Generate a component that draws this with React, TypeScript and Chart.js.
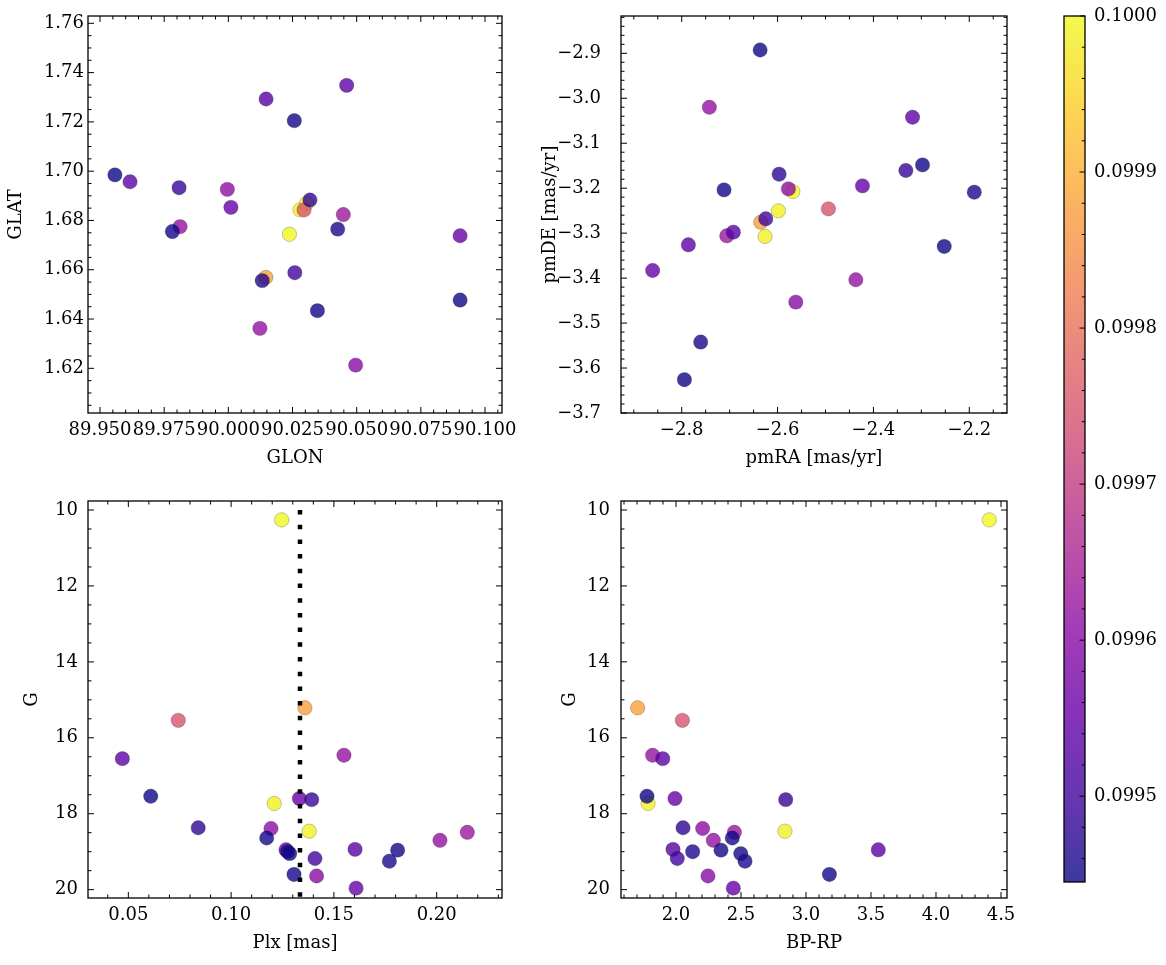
import React, { useEffect, useRef } from "react";
import { Chart, registerables } from "chart.js";
Chart.register(...registerables);

// ---- star data (ordered by membership probability, descending) ----
const glon = [90.0238, 90.0279, 90.0305, 90.0146, 90.0295, 89.9812, 89.9996, 90.0448, 90.0123, 90.0496, 89.9617, 90.001, 90.0147, 90.0461, 90.0903, 89.9808, 90.0318, 90.0259, 89.9558, 89.9782, 90.0257, 90.0426, 90.0903, 90.0132, 90.0347];
const glat = [1.6744, 1.6843, 1.687, 1.6569, 1.6843, 1.6775, 1.6926, 1.6824, 1.6362, 1.6213, 1.6957, 1.6853, 1.7293, 1.7348, 1.6738, 1.6933, 1.6883, 1.6588, 1.6985, 1.6755, 1.7205, 1.6765, 1.6477, 1.6556, 1.6434];
const pmra = [-2.5682, -2.5982, -2.6261, -2.635, -2.4939, -2.7423, -2.5774, -2.706, -2.4367, -2.562, -2.3184, -2.4229, -2.6922, -2.7861, -2.8606, -2.3323, -2.5968, -2.6246, -2.6364, -2.2976, -2.7117, -2.1896, -2.2523, -2.7604, -2.7944];
const pmde = [-3.2074, -3.2504, -3.3074, -3.2756, -3.2459, -3.02, -3.2015, -3.3059, -3.4037, -3.4533, -3.0422, -3.1948, -3.2978, -3.3259, -3.383, -3.1607, -3.1689, -3.2681, -2.8926, -3.1482, -3.2037, -3.2089, -3.3296, -3.5422, -3.6259];
const plx = [0.1246, 0.121, 0.138, 0.1359, 0.0743, 0.1549, 0.1194, 0.2149, 0.2016, 0.1416, 0.0471, 0.1332, 0.1603, 0.1267, 0.1608, 0.1392, 0.084, 0.1408, 0.0609, 0.1173, 0.181, 0.1275, 0.1285, 0.177, 0.1306];
const gmag = [10.26, 17.73, 18.46, 15.21, 15.54, 16.46, 18.39, 18.49, 18.7, 19.64, 16.55, 17.6, 18.94, 18.95, 19.96, 17.63, 18.37, 19.18, 17.54, 18.64, 18.96, 19.0, 19.05, 19.25, 19.6];
const bprp = [4.41, 1.785, 2.838, 1.705, 2.049, 1.82, 2.205, 2.449, 2.287, 2.246, 1.898, 1.992, 1.977, 3.556, 2.441, 2.844, 2.054, 2.01, 1.777, 2.433, 2.346, 2.128, 2.498, 2.531, 3.18];
const prob = [0.1, 0.09999, 0.09999, 0.09988, 0.09975, 0.09962, 0.09961, 0.09963, 0.09962, 0.0996, 0.09954, 0.09955, 0.09953, 0.09954, 0.09955, 0.09949, 0.09948, 0.0995, 0.099445, 0.09945, 0.09945, 0.09946, 0.09945, 0.09946, 0.09945];

const plxCut = 0.1335;
const plxCutG = [10, 20.3];

// ---- tick labels ----
const glonTicks = [89.95, 89.975, 90.0, 90.025, 90.05, 90.075, 90.1];
const glatTicks = [1.62, 1.64, 1.66, 1.68, 1.7, 1.72, 1.74, 1.76];
const pmraTicks = [-2.8, -2.6, -2.4, -2.2];
const pmdeTicks = [-3.7, -3.6, -3.5, -3.4, -3.3, -3.2, -3.1, -3.0, -2.9];
const plxTicks = [0.05, 0.1, 0.15, 0.2];
const gTicks = [10, 12, 14, 16, 18, 20];
const bprpTicks = [2.0, 2.5, 3.0, 3.5, 4.0, 4.5];
const probTicks = [0.0995, 0.0996, 0.0997, 0.0998, 0.0999, 0.1];

const FONT = "'DejaVu Serif', serif";
Chart.defaults.font.family = FONT;
Chart.defaults.color = "#000";

const PLASMA = ["#0d0887", "#41049d", "#6a00a8", "#8f0da4", "#b12a90", "#cc4778", "#e16462", "#f2844b", "#fca636", "#fcce25", "#f0f921"];
function hexRgb(h: string) {
  return [parseInt(h.slice(1, 3), 16), parseInt(h.slice(3, 5), 16), parseInt(h.slice(5, 7), 16)];
}
function plasma(t: number, alpha: number) {
  const tt = Math.min(1, Math.max(0, t));
  const n = PLASMA.length - 1;
  const f = tt * n;
  const i = Math.min(n - 1, Math.floor(f));
  const u = f - i;
  const a = hexRgb(PLASMA[i]);
  const b = hexRgb(PLASMA[i + 1]);
  const c = a.map((v, k) => Math.round(v + (b[k] - v) * u));
  return `rgba(${c[0]},${c[1]},${c[2]},${alpha})`;
}

const vmin = Math.min(...prob);
const vmax = Math.max(...prob);
const ALPHA = 0.8;
const pointColors = prob.map((p) => plasma((p - vmin) / (vmax - vmin), ALPHA));

function fmt(d: number) {
  return (v: any) => Number(v).toFixed(d).replace("-", "\u2212");
}

function minorValues(min: number, max: number, step: number, majors: number[]) {
  const out: number[] = [];
  const k0 = Math.ceil(min / step - 1e-6);
  const k1 = Math.floor(max / step + 1e-6);
  for (let k = k0; k <= k1; k++) {
    const v = k * step;
    if (majors.some((m) => Math.abs(m - v) < step * 1e-3)) continue;
    out.push(v);
  }
  return out;
}

const frameTicks = {
  id: "frameTicks",
  afterDatasetsDraw(chart: any, _args: any, opts: any) {
    const { ctx, chartArea: a } = chart;
    const xs = chart.scales.x;
    const ys = chart.scales.y;
    const majLen = opts.majorLen || 6;
    const minLen = opts.minorLen || 3.5;
    ctx.save();
    ctx.strokeStyle = "#000";
    ctx.lineWidth = 1;
    ctx.beginPath();
    const tickX = (v: number, len: number) => {
      const p = xs.getPixelForValue(v);
      if (p < a.left - 0.5 || p > a.right + 0.5) return;
      if (opts.xBottom) { ctx.moveTo(p, a.bottom); ctx.lineTo(p, a.bottom - len); }
      if (opts.xTop) { ctx.moveTo(p, a.top); ctx.lineTo(p, a.top + len); }
    };
    const tickY = (v: number, len: number) => {
      const p = ys.getPixelForValue(v);
      if (p < a.top - 0.5 || p > a.bottom + 0.5) return;
      if (opts.yLeft) { ctx.moveTo(a.left, p); ctx.lineTo(a.left + len, p); }
      if (opts.yRight) { ctx.moveTo(a.right, p); ctx.lineTo(a.right - len, p); }
    };
    if (opts.xBottom || opts.xTop) {
      const maj = xs.ticks.map((t: any) => t.value);
      maj.forEach((v: number) => tickX(v, majLen));
      minorValues(xs.min, xs.max, opts.xMinor, maj).forEach((v) => tickX(v, minLen));
    }
    if (opts.yLeft || opts.yRight) {
      const maj = ys.ticks.map((t: any) => t.value);
      maj.forEach((v: number) => tickY(v, majLen));
      minorValues(ys.min, ys.max, opts.yMinor, maj).forEach((v) => tickY(v, minLen));
    }
    ctx.stroke();
    ctx.lineWidth = 1.3;
    ctx.strokeRect(a.left, a.top, a.right - a.left, a.bottom - a.top);
    ctx.restore();
  },
};

const colorbarFill = {
  id: "colorbarFill",
  beforeDatasetsDraw(chart: any) {
    const { ctx, chartArea: a } = chart;
    const y = chart.scales.y;
    const y0 = y.getPixelForValue(vmin);
    const y1 = y.getPixelForValue(vmax);
    const g = ctx.createLinearGradient(0, y0, 0, y1);
    for (let i = 0; i <= 50; i++) g.addColorStop(i / 50, plasma(i / 50, ALPHA));
    ctx.save();
    ctx.fillStyle = g;
    ctx.fillRect(a.left, a.top, a.right - a.left, a.bottom - a.top);
    ctx.restore();
  },
};

type Spec = {
  xs: number[]; ys: number[];
  xMin: number; xMax: number; yMin: number; yMax: number;
  xTicks: number[]; yTicks: number[]; xMinor: number; yMinor: number;
  xDigits: number; yDigits: number; xTitle: string; yTitle: string;
  reverseY?: boolean;
  yWidth: number; xHeight: number;
  pad: { left: number; top: number; right: number; bottom: number };
  yTickPad: number; yTitlePad: number; xTitlePad: number;
  extra?: any[];
};

function panelConfig(s: Spec): any {
  const tickFont = { family: FONT, size: 18 };
  const titleFont = { family: FONT, size: 18, lineHeight: 1.2 };
  return {
    type: "scatter",
    data: {
      datasets: [
        ...(s.extra || []),
        {
          data: s.xs.map((x, i) => ({ x, y: s.ys[i] })),
          pointBackgroundColor: pointColors,
          pointBorderColor: "rgba(30,30,30,0.35)",
          pointBorderWidth: 0.7,
          pointRadius: 7.2,
          pointHoverRadius: 7.2,
          showLine: false,
          order: 1,
        },
      ],
    },
    options: {
      animation: false,
      responsive: false,
      events: [],
      layout: { padding: s.pad, autoPadding: false },
      plugins: {
        legend: { display: false },
        tooltip: { enabled: false },
        frameTicks: { xBottom: true, xTop: true, yLeft: true, yRight: true, xMinor: s.xMinor, yMinor: s.yMinor, majorLen: 6, minorLen: 3.5 },
      },
      scales: {
        x: {
          type: "linear",
          min: s.xMin,
          max: s.xMax,
          grid: { display: false, drawTicks: false },
          border: { display: false },
          afterBuildTicks: (sc: any) => { sc.ticks = s.xTicks.map((v) => ({ value: v })); },
          afterFit: (sc: any) => { sc.height = s.xHeight; sc.paddingLeft = 0; sc.paddingRight = 0; },
          ticks: { autoSkip: false, maxRotation: 0, minRotation: 0, padding: 6.5, font: tickFont, color: "#000", callback: fmt(s.xDigits) },
          title: { display: true, text: s.xTitle, font: titleFont, color: "#000", padding: { top: 0, bottom: s.xTitlePad } },
        },
        y: {
          type: "linear",
          min: s.yMin,
          max: s.yMax,
          reverse: !!s.reverseY,
          grid: { display: false, drawTicks: false },
          border: { display: false },
          afterBuildTicks: (sc: any) => { sc.ticks = s.yTicks.map((v) => ({ value: v })); },
          afterFit: (sc: any) => { sc.width = s.yWidth; sc.paddingTop = 0; sc.paddingBottom = 0; },
          ticks: { autoSkip: false, padding: s.yTickPad, font: tickFont, color: "#000", callback: fmt(s.yDigits) },
          title: { display: true, text: s.yTitle, font: titleFont, color: "#000", padding: { top: s.yTitlePad, bottom: 0 } },
        },
      },
    },
    plugins: [frameTicks],
  };
}

function colorbarConfig(): any {
  return {
    type: "scatter",
    data: { datasets: [] },
    options: {
      animation: false,
      responsive: false,
      events: [],
      layout: { padding: { left: 24, top: 16, right: 0, bottom: 83 }, autoPadding: false },
      plugins: {
        legend: { display: false },
        tooltip: { enabled: false },
        frameTicks: { xBottom: false, xTop: false, yLeft: false, yRight: true, yMinor: 0.00002, majorLen: 5.5, minorLen: 3.2 },
      },
      scales: {
        x: { type: "linear", display: false, min: 0, max: 1 },
        y: {
          type: "linear",
          position: "right",
          min: vmin,
          max: vmax,
          grid: { display: false, drawTicks: false },
          border: { display: false },
          afterBuildTicks: (sc: any) => { sc.ticks = probTicks.map((v) => ({ value: v })); },
          afterFit: (sc: any) => { sc.width = 81; sc.paddingTop = 0; sc.paddingBottom = 0; },
          ticks: { autoSkip: false, padding: 9, font: { family: FONT, size: 18 }, color: "#000", callback: fmt(4) },
        },
      },
    },
    plugins: [colorbarFill, frameTicks],
  };
}

export default function App() {
  const r1 = useRef<HTMLCanvasElement>(null);
  const r2 = useRef<HTMLCanvasElement>(null);
  const r3 = useRef<HTMLCanvasElement>(null);
  const r4 = useRef<HTMLCanvasElement>(null);
  const r5 = useRef<HTMLCanvasElement>(null);

  useEffect(() => {
    const charts: Chart[] = [];
    charts.push(new Chart(r1.current as HTMLCanvasElement, panelConfig({
      xs: glon, ys: glat, xMin: 89.94532, xMax: 90.10662, yMin: 1.60187, yMax: 1.76297,
      xTicks: glonTicks, yTicks: glatTicks, xMinor: 0.005, yMinor: 0.005, xDigits: 3, yDigits: 2,
      xTitle: "GLON", yTitle: "GLAT", yWidth: 88, xHeight: 67,
      pad: { left: 0, top: 16, right: 18, bottom: 0 }, yTickPad: 4, yTitlePad: 6, xTitlePad: 10.7,
    })));
    charts.push(new Chart(r2.current as HTMLCanvasElement, panelConfig({
      xs: pmra, ys: pmde, xMin: -2.92668, xMax: -2.1213, yMin: -3.7, yMax: -2.81704,
      xTicks: pmraTicks, yTicks: pmdeTicks, xMinor: 0.05, yMinor: 0.02, xDigits: 1, yDigits: 1,
      xTitle: "pmRA [mas/yr]", yTitle: "pmDE [mas/yr]", yWidth: 101, xHeight: 67,
      pad: { left: 0, top: 16, right: 33, bottom: 0 }, yTickPad: 20, yTitlePad: 20, xTitlePad: 10.7,
    })));
    charts.push(new Chart(r3.current as HTMLCanvasElement, panelConfig({
      xs: plx, ys: gmag, xMin: 0.03038, xMax: 0.23178, yMin: 9.7627, yMax: 20.22, reverseY: true,
      xTicks: plxTicks, yTicks: gTicks, xMinor: 0.01, yMinor: 0.5, xDigits: 2, yDigits: 0,
      xTitle: "Plx [mas]", yTitle: "G", yWidth: 88, xHeight: 67,
      pad: { left: 0, top: 21, right: 18, bottom: 0 }, yTickPad: 10, yTitlePad: 22, xTitlePad: 11,
      extra: [{
        type: "line",
        data: plxCutG.map((g) => ({ x: plxCut, y: g })),
        borderColor: "#000",
        borderWidth: 4.5,
        borderDash: [4.5, 10.2],
        borderCapStyle: "butt",
        pointRadius: 0,
        showLine: true,
        fill: false,
        order: 0,
      }],
    })));
    charts.push(new Chart(r4.current as HTMLCanvasElement, panelConfig({
      xs: bprp, ys: gmag, xMin: 1.5769, xMax: 4.5462, yMin: 9.7627, yMax: 20.22, reverseY: true,
      xTicks: bprpTicks, yTicks: gTicks, xMinor: 0.1, yMinor: 0.5, xDigits: 1, yDigits: 0,
      xTitle: "BP-RP", yTitle: "G", yWidth: 101, xHeight: 67,
      pad: { left: 0, top: 21, right: 33, bottom: 0 }, yTickPad: 11, yTitlePad: 40, xTitlePad: 11,
    })));
    charts.push(new Chart(r5.current as HTMLCanvasElement, colorbarConfig()));
    return () => charts.forEach((c) => c.destroy());
  }, []);

  const cs = (left: number, top: number): React.CSSProperties => ({ position: "absolute", left, top, display: "block" });
  return (
    <div style={{ position: "absolute", left: 0, top: 0, width: 1166, height: 965, background: "#fff", overflow: "hidden" }}>
      <canvas ref={r1} width={520} height={480} style={cs(0, 0)} />
      <canvas ref={r2} width={520} height={480} style={cs(520, 0)} />
      <canvas ref={r3} width={520} height={485} style={cs(0, 480)} />
      <canvas ref={r4} width={520} height={485} style={cs(520, 480)} />
      <canvas ref={r5} width={126} height={965} style={cs(1040, 0)} />
    </div>
  );
}
